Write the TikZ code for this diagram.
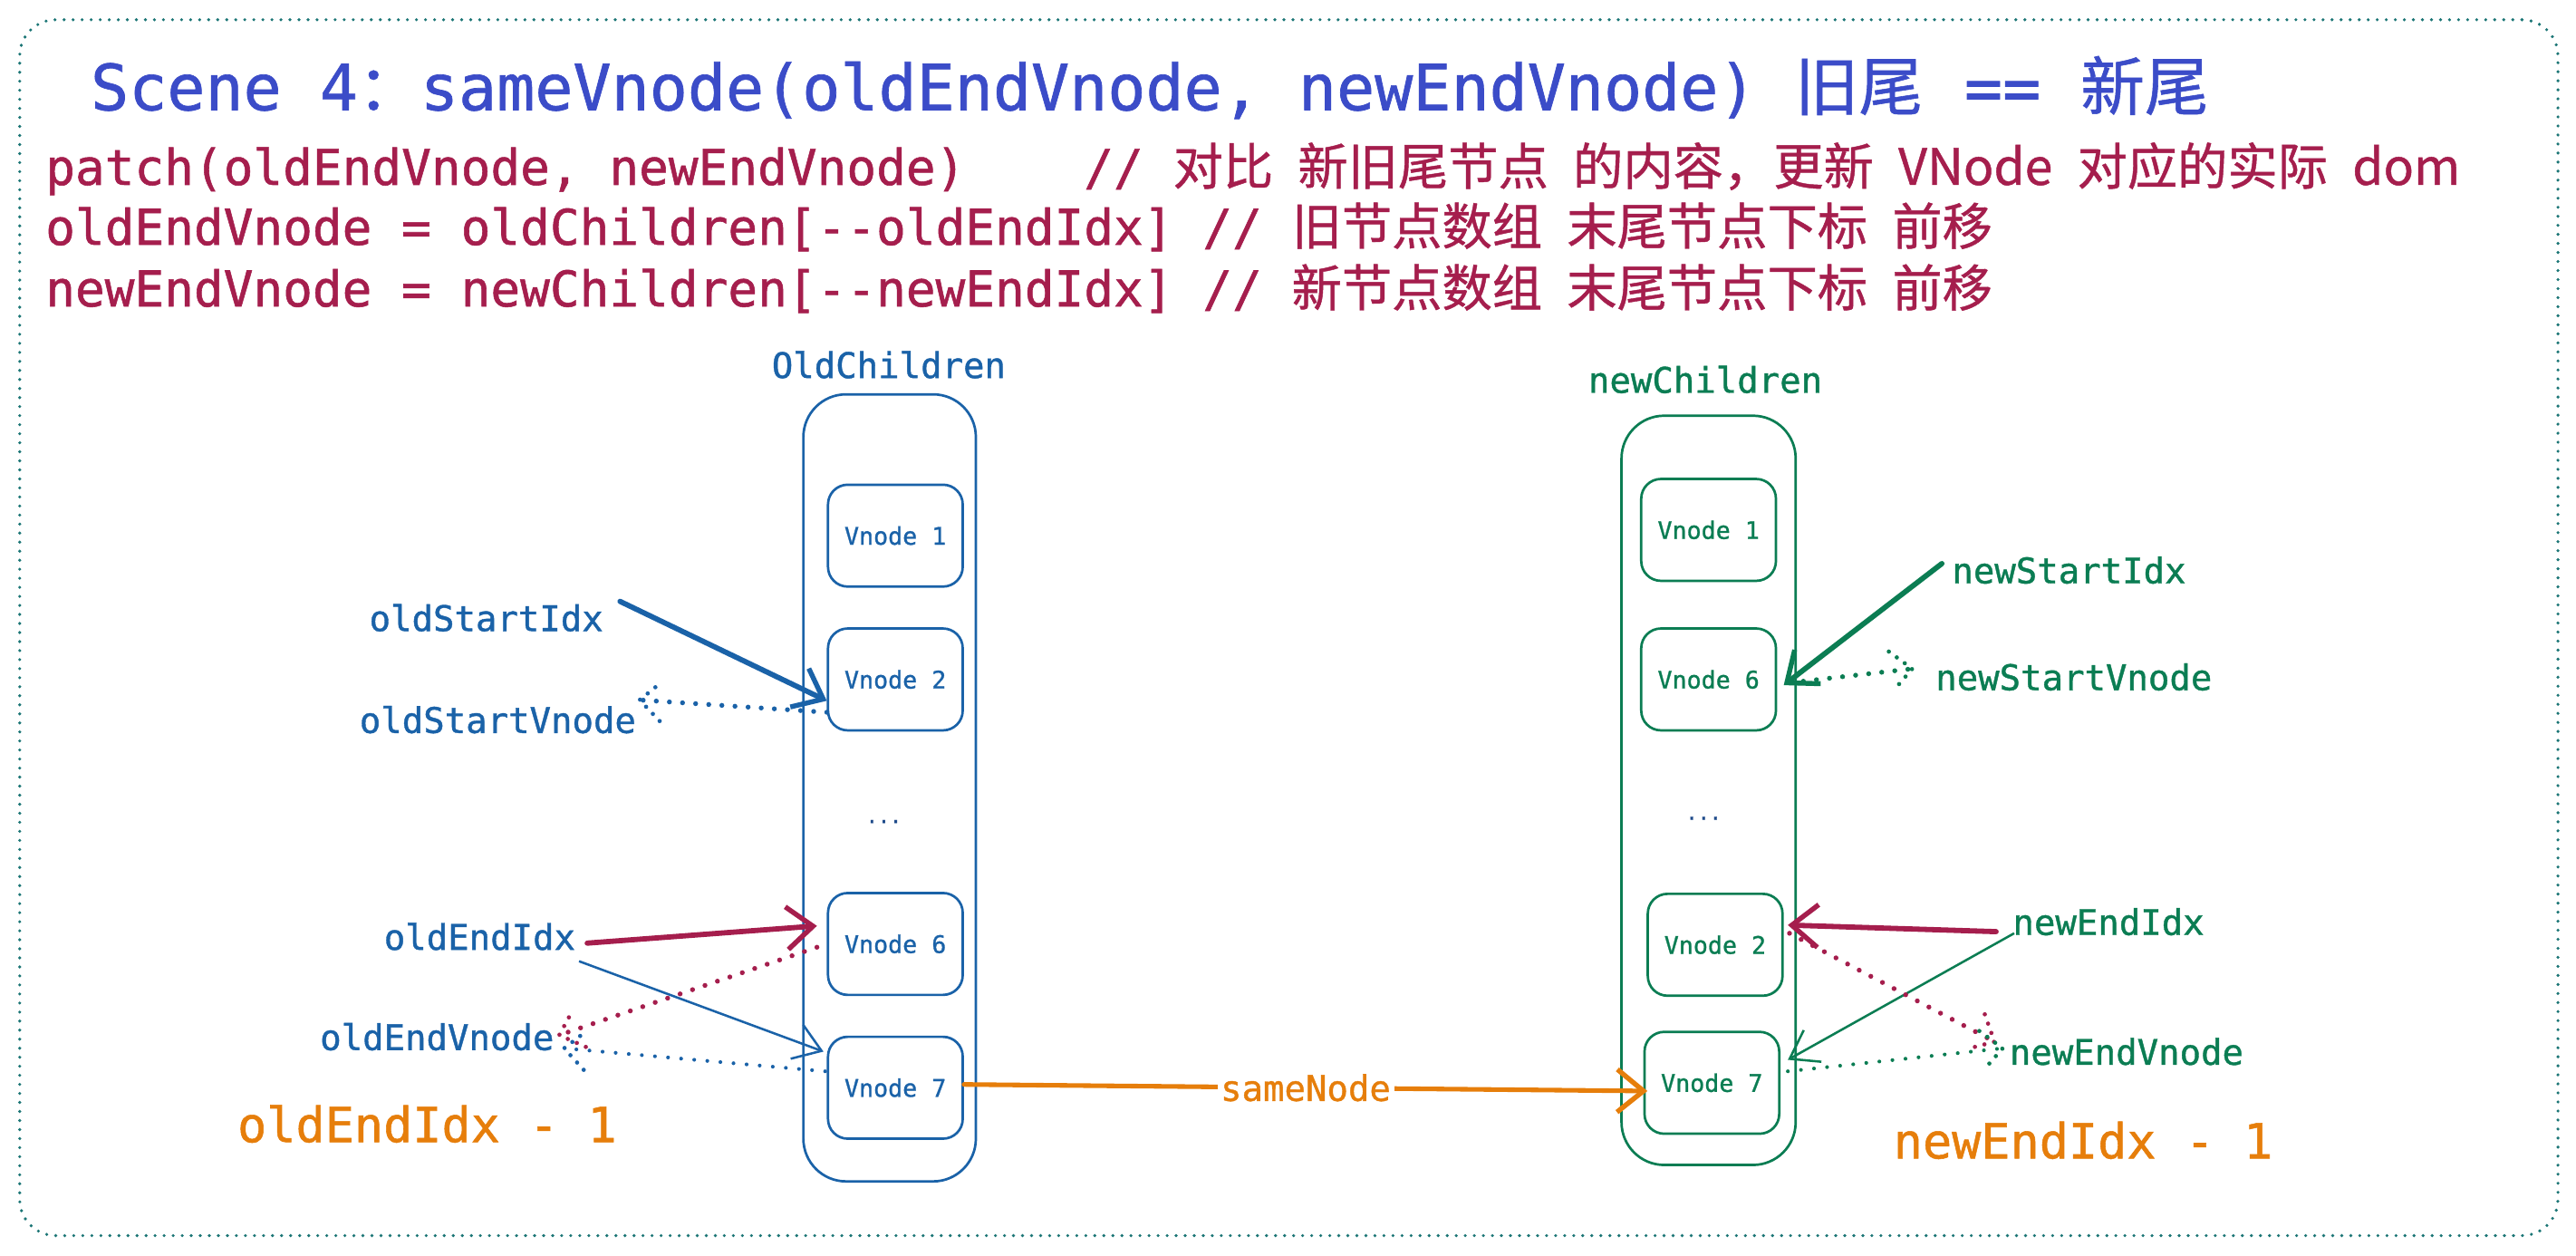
\documentclass[tikz,border=0pt]{standalone}
\usepackage{fontspec}
\setmonofont[FakeBold=1]{DejaVu Sans Mono}
\newfontfamily\cjk[FakeBold=0.8]{Noto Sans CJK SC}
\usetikzlibrary{arrows.meta,decorations.markings}
\definecolor{ttl}{HTML}{3B4CC8}
\definecolor{codec}{HTML}{A51E4D}
\definecolor{oblue}{HTML}{1A62A8}
\definecolor{ngreen}{HTML}{0B7D53}
\definecolor{orng}{HTML}{E67E0B}
\definecolor{brd}{HTML}{1B7575}
\definecolor{dotc}{HTML}{1E4A8A}
\newcommand\gp{\hspace{15pt}}
\tikzset{
  vbox/.style={draw, rounded corners=12pt, minimum width=82pt, minimum height=62pt, line width=1.5pt, font=\ttfamily\fontsize{14.7}{15}\selectfont, inner sep=0pt},
  cont/.style={draw, rounded corners=26pt, line width=1.5pt, inner sep=0pt},
  lab/.style={font=\ttfamily\fontsize{21.5}{22}\selectfont, inner sep=0pt},
  biglab/.style={font=\ttfamily\fontsize{29.5}{30}\selectfont, inner sep=0pt, text=orng},
  codeline/.style={anchor=base west, inner sep=0pt, text=codec, font=\ttfamily\fontsize{30}{30}\selectfont},
  thickarr/.style={line width=3.2pt, line cap=round, -{Straight Barb[length=16pt, width=26pt, line width=3pt]}},
  thinarr/.style={line width=1.4pt, -{Straight Barb[length=16pt, width=22pt, line width=1.4pt]}},
  dotarr/.style={draw=#1, line width=3pt, line cap=round, dash pattern=on 0pt off 8pt,
    postaction={decorate}, decoration={markings, mark=at position 1 with {\draw[#1, line width=2.6pt, line cap=round, dash pattern=on 0pt off 6pt] (-13pt,12pt) -- (0pt,0pt) -- (-13pt,-12pt);}}},
  dotarrthin/.style={dotarr=#1, line width=2.3pt},
}
\begin{document}
\begin{tikzpicture}[x=1pt,y=-1pt]
\useasboundingbox (0,0) rectangle (1568,764);
% frame
\node[draw=brd, line width=2pt, line cap=round, dash pattern=on 0pt off 5.5pt, rounded corners=22pt, minimum width=1545pt, minimum height=740pt, inner sep=0pt] (frame) at (784.5,382) {};
% title
\node[anchor=base west, inner sep=0pt, text=ttl, font=\ttfamily\fontsize{38.6}{39}\selectfont] (title) at (55,67)
  {Scene 4{\cjk\fontsize{38}{39}\selectfont ：}sameVnode(oldEndVnode, newEndVnode) {\cjk\fontsize{39}{39}\selectfont 旧尾} \hspace{2pt}== \hspace{1pt}{\cjk\fontsize{39}{39}\selectfont 新尾}};
% code lines
\node[codeline] (l1) at (27.5,112.5) {patch(oldEndVnode, newEndVnode)\ \ \ \ // {\cjk\fontsize{30.5}{30}\selectfont 对比\gp 新旧尾节点\gp 的内容，更新\gp VNode\gp 对应的实际\gp dom}};
\node[codeline] (l2) at (27.5,149) {oldEndVnode = oldChildren[--oldEndIdx] // {\cjk\fontsize{30.5}{30}\selectfont 旧节点数组\gp 末尾节点下标\gp 前移}};
\node[codeline] (l3) at (27.5,186.5) {newEndVnode = newChildren[--newEndIdx] // {\cjk\fontsize{30.5}{30}\selectfont 新节点数组\gp 末尾节点下标\gp 前移}};

% old children
\node[lab, text=oblue] (oldlab) at (541,222) {OldChildren};
\node[cont, draw=oblue, minimum width=105pt, minimum height=479pt] (oldc) at (541.5,479.5) {};
\node[vbox, draw=oblue, text=oblue] (o1) at (545,326) {Vnode 1};
\node[vbox, draw=oblue, text=oblue] (o2) at (545,413.5) {Vnode 2};
\node[inner sep=0pt, text=dotc, font=\ttfamily\fontsize{12}{12}\selectfont] (odots) at (538,500) {...};
\node[vbox, draw=oblue, text=oblue] (o6) at (545,574.5) {Vnode 6};
\node[vbox, draw=oblue, text=oblue] (o7) at (545,662) {Vnode 7};

% new children
\node[lab, text=ngreen] (newlab) at (1038,231) {newChildren};
\node[cont, draw=ngreen, minimum width=106pt, minimum height=456pt] (newc) at (1040,481) {};
\node[vbox, draw=ngreen, text=ngreen] (n1) at (1040,322.5) {Vnode 1};
\node[vbox, draw=ngreen, text=ngreen] (n6) at (1040,413.5) {Vnode 6};
\node[inner sep=0pt, text=dotc, font=\ttfamily\fontsize{12}{12}\selectfont] (ndots) at (1037,498) {...};
\node[vbox, draw=ngreen, text=ngreen] (n2) at (1044,575) {Vnode 2};
\node[vbox, draw=ngreen, text=ngreen] (n7) at (1042,659) {Vnode 7};

% left labels
\node[lab, text=oblue] (oSI) at (296,376) {oldStartIdx};
\node[lab, text=oblue] (oSV) at (303,438) {oldStartVnode};
\node[lab, text=oblue] (oEI) at (292,570) {oldEndIdx};
\node[lab, text=oblue] (oEV) at (266,631) {oldEndVnode};
\node[biglab] (oEI1) at (260,684) {oldEndIdx - 1};

% right labels
\node[lab, text=ngreen, anchor=west] (nSI) at (1188,347) {newStartIdx};
\node[lab, text=ngreen, anchor=west] (nSV) at (1178,412) {newStartVnode};
\node[lab, text=ngreen, anchor=west] (nEI) at (1225,561) {newEndIdx};
\node[lab, text=ngreen, anchor=west] (nEV) at (1223,640) {newEndVnode};
\node[biglab] (nEI1) at (1268,694) {newEndIdx - 1};

% old side arrows
\draw[thickarr, oblue] ([xshift=10pt,yshift=10pt]oSI.east) -- ([yshift=-13pt]o2.west);
\draw[dotarr=oblue] ([yshift=-20pt]o2.west) -- ([xshift=2pt,yshift=12pt]oSV.east);
\draw[thickarr, codec] ([xshift=7pt,yshift=-4pt]oEI.east) -- ([xshift=-6pt,yshift=11pt]o6.west);
\draw[thinarr, oblue] ([xshift=2pt,yshift=-15pt]oEI.east) -- ([xshift=-2pt,yshift=22pt]o7.west);
\draw[dotarr=codec] ([xshift=-6pt,yshift=-2pt]o6.west) -- ([xshift=3pt,yshift=1pt]oEV.east);
\draw[dotarrthin=oblue] ([xshift=-1pt,yshift=10pt]o7.west) -- ([xshift=6pt,yshift=-7pt]oEV.east);

% sameNode
\draw[thickarr, orng, line width=2.8pt] ([yshift=2pt]o7.east) -- node[fill=white, inner sep=2pt, font=\ttfamily\fontsize{21.5}{22}\selectfont, text=orng] (same) {sameNode} ([xshift=2.5pt,yshift=-5pt]n7.west);

% new side arrows
\draw[thickarr, ngreen] ([xshift=-6pt,yshift=4pt]nSI.west) -- ([xshift=4pt,yshift=-3.5pt]n6.east);
\draw[dotarr=ngreen] ([xshift=8pt,yshift=-2pt]n6.east) -- ([xshift=-14pt,yshift=5pt]nSV.west);
\draw[thickarr, codec] ([xshift=-10pt,yshift=-6pt]nEI.west) -- ([xshift=2.5pt,yshift=12pt]n2.east);
\draw[thinarr, ngreen] ([xshift=1pt,yshift=-7pt]nEI.west) -- ([xshift=4.5pt,yshift=14pt]n7.east);
\draw[dotarr=codec] ([xshift=3.5pt,yshift=7pt]n2.east) -- ([xshift=-9pt,yshift=6pt]nEV.west);
\draw[dotarrthin=ngreen] ([xshift=4.5pt,yshift=7pt]n7.east) -- ([xshift=-4pt,yshift=2pt]nEV.west);
\end{tikzpicture}
\end{document}
